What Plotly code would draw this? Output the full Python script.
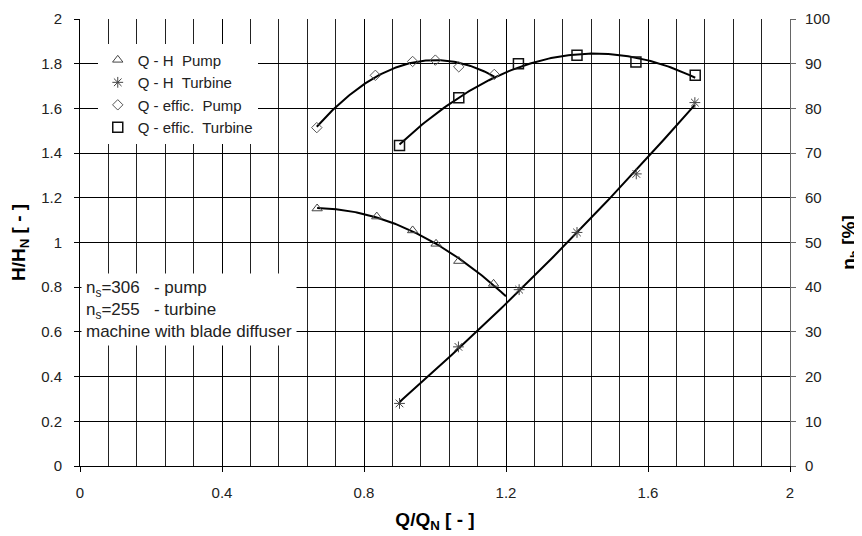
import numpy as np
import plotly.graph_objects as go

# ---- data ----
q_pump = [0.668, 0.836, 0.937, 1.003, 1.067, 1.165]
h_pump = [1.152, 1.116, 1.054, 0.994, 0.917, 0.815]

q_turb = [0.900, 1.066, 1.237, 1.400, 1.567, 1.732]
h_turb = [0.280, 0.533, 0.789, 1.045, 1.307, 1.626]

q_eff_pump = [0.667, 0.832, 0.937, 1.001, 1.067, 1.167]
eff_pump = [75.7, 87.4, 90.5, 90.8, 89.3, 87.6]

q_eff_turb = [0.900, 1.067, 1.235, 1.400, 1.566, 1.733]
eff_turb = [71.7, 82.4, 90.0, 91.9, 90.4, 87.4]

# trendline extents (Q range of each fitted curve)
range_h_pump = [0.668, 1.20]
range_h_turb = [0.900, 1.732]
range_eff_pump = [0.667, 1.167]
range_eff_turb = [0.900, 1.733]

names = ["Q - H  Pump", "Q - H  Turbine", "Q - effic.  Pump", "Q - effic.  Turbine"]
note_lines = ["n<sub>s</sub>=306   - pump", "n<sub>s</sub>=255   - turbine",
              "machine with blade diffuser"]

x_ticks = [0, 0.4, 0.8, 1.2, 1.6, 2]
x_ticktext = ["0", "0.4", "0.8", "1.2", "1.6", "2"]
y_ticks = [0, 0.2, 0.4, 0.6, 0.8, 1, 1.2, 1.4, 1.6, 1.8, 2]
y_ticktext = ["0", "0.2", "0.4", "0.6", "0.8", "1", "1.2", "1.4", "1.6", "1.8", "2"]

FONT = "Liberation Sans, Arial, sans-serif"


def trend(qs, vs, rng, deg):
    c = np.polyfit(qs, vs, deg)
    xx = np.linspace(rng[0], rng[1], 120)
    return xx, np.polyval(c, xx)


fig = go.Figure()

# fitted trend lines
for qs, vs, rng, deg, ax in [
    (q_pump, h_pump, range_h_pump, 2, "y"),
    (q_turb, h_turb, range_h_turb, 2, "y"),
    (q_eff_pump, eff_pump, range_eff_pump, 2, "y2"),
    (q_eff_turb, eff_turb, range_eff_turb, 2, "y2"),
]:
    xx, yy = trend(qs, vs, rng, deg)
    fig.add_trace(go.Scatter(x=xx, y=yy, mode="lines", yaxis=ax,
                             line=dict(color="black", width=2),
                             showlegend=False, hoverinfo="skip"))

# data markers
fig.add_trace(go.Scatter(x=q_pump, y=h_pump, mode="markers", name=names[0],
                         marker=dict(symbol="triangle-up-open", size=9,
                                     color="#444", line=dict(width=1))))
fig.add_trace(go.Scatter(x=q_turb, y=h_turb, mode="markers", name=names[1],
                         marker=dict(symbol="asterisk-open", size=9,
                                     color="#444", line=dict(width=1))))
fig.add_trace(go.Scatter(x=q_eff_pump, y=eff_pump, mode="markers", name=names[2],
                         yaxis="y2",
                         marker=dict(symbol="diamond-open", size=8,
                                     color="#555", line=dict(width=1))))
fig.add_trace(go.Scatter(x=q_eff_turb, y=eff_turb, mode="markers", name=names[3],
                         yaxis="y2",
                         marker=dict(symbol="square-open", size=10,
                                     color="#111", line=dict(width=1.5))))

fig.add_annotation(xref="paper", yref="paper", x=0.002, y=0.35,
                   xanchor="left", yanchor="middle", align="left",
                   text="<br>".join(note_lines), showarrow=False,
                   bgcolor="white", borderpad=4,
                   font=dict(family=FONT, size=17, color="#222"))

# the page body has an 8px margin, so the figure is 8px smaller each way
fig.update_layout(
    width=854, height=528,
    margin=dict(l=72, r=72, t=11, b=70),
    paper_bgcolor="white", plot_bgcolor="white",
    font=dict(family=FONT, size=15, color="#222"),
    legend=dict(x=0.025, y=0.945, xanchor="left", yanchor="top",
                bgcolor="white", borderwidth=0, itemwidth=30,
                font=dict(family=FONT, size=15, color="#222"),
                tracegroupgap=0),
    xaxis=dict(range=[0, 2], tickvals=x_ticks, ticktext=x_ticktext,
               showgrid=True, gridcolor="black", gridwidth=1,
               minor=dict(dtick=0.08, tick0=0, showgrid=True,
                          gridcolor="#222", gridwidth=1, ticks=""),
               ticks="outside", ticklen=5, tickcolor="black",
               ticklabelstandoff=8,
               showline=True, linecolor="black", linewidth=1,
               zeroline=False, mirror=False, automargin=False,
               title=dict(text="<b>Q/Q<sub>N</sub> [ - ]</b>",
                          font=dict(family=FONT, size=19, color="black"),
                          standoff=12)),
    yaxis=dict(range=[0, 2], tickvals=y_ticks, ticktext=y_ticktext,
               showgrid=True, gridcolor="black", gridwidth=1,
               ticks="outside", ticklen=5, tickcolor="black",
               ticklabelstandoff=9,
               showline=True, linecolor="black", linewidth=1,
               zeroline=False, automargin=False,
               title=dict(text="<b>H/H<sub>N</sub> [ - ]</b>",
                          font=dict(family=FONT, size=19, color="black"),
                          standoff=14)),
    yaxis2=dict(range=[0, 100], dtick=10, tick0=0, overlaying="y",
                side="right", showgrid=False, zeroline=False,
                ticks="outside", ticklen=5, tickcolor="#666",
                ticklabelstandoff=6, automargin=False,
                showline=True, linecolor="#666", linewidth=1,
                title=dict(text="<b>η<sub>h</sub> [%]</b>",
                           font=dict(family=FONT, size=19, color="black"),
                           standoff=14)),
)

fig.write_html("out.html")
